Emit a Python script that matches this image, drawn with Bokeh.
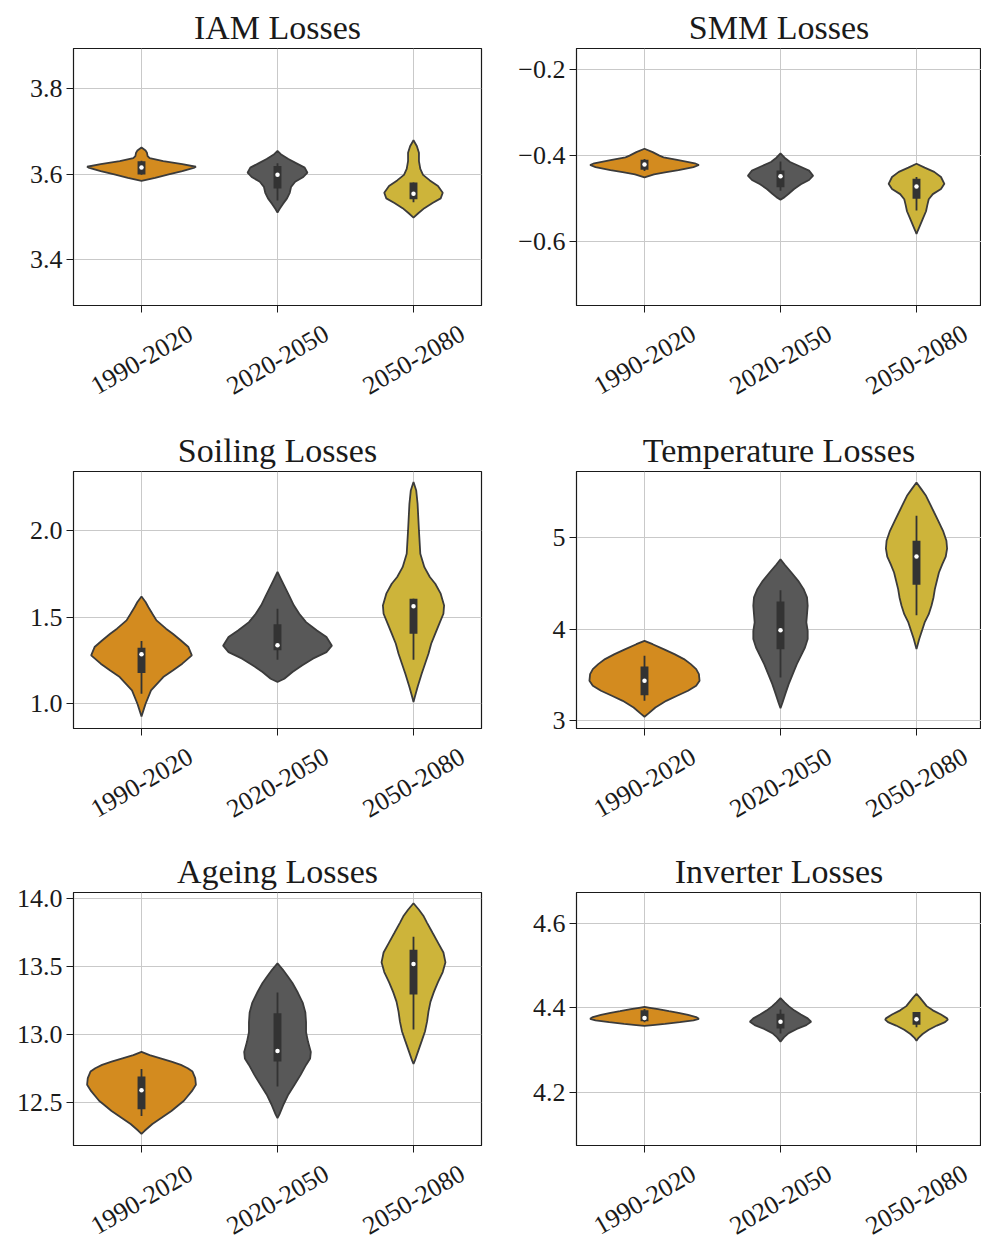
import numpy as np
from bokeh.plotting import figure
from bokeh.layouts import column, row
from bokeh.models import FixedTicker, Range1d
from bokeh.embed import file_html
from bokeh.resources import INLINE

periods = ["1990-2020", "2020-2050", "2050-2080"]
fill_colors = ["#D38B1F", "#585858", "#CDB43A"]

# ---------------- IAM Losses ----------------
iam_levels = [
    [3.662, 3.655, 3.650, 3.642, 3.637, 3.630, 3.623, 3.617, 3.615, 3.607, 3.599, 3.591, 3.584],
    [3.654, 3.645, 3.635, 3.625, 3.615, 3.603, 3.593, 3.582, 3.570, 3.556, 3.543, 3.530, 3.518, 3.510],
    [3.679, 3.665, 3.650, 3.630, 3.612, 3.598, 3.585, 3.572, 3.556, 3.543, 3.532, 3.520, 3.508, 3.498],
]
iam_widths = [
    [0, 0.03, 0.04, 0.045, 0.06, 0.16, 0.30, 0.40, 0.39, 0.30, 0.20, 0.10, 0],
    [0, 0.03, 0.08, 0.14, 0.20, 0.22, 0.19, 0.13, 0.10, 0.09, 0.07, 0.04, 0.015, 0],
    [0, 0.025, 0.04, 0.04, 0.05, 0.07, 0.12, 0.18, 0.215, 0.20, 0.14, 0.08, 0.035, 0],
]
iam_q1 = [3.599, 3.566, 3.541]
iam_med = [3.615, 3.598, 3.554]
iam_q3 = [3.630, 3.619, 3.580]
iam_wlo = [3.598, 3.538, 3.534]
iam_whi = [3.631, 3.625, 3.580]
iam_yticks = [3.4, 3.6, 3.8]
iam_ylabels = ["3.4", "3.6", "3.8"]
iam_ylim = (3.292, 3.894)

# ---------------- SMM Losses ----------------
smm_levels = [
    [-0.384, -0.392, -0.400, -0.404, -0.410, -0.418, -0.422, -0.427, -0.434, -0.439, -0.444, -0.451],
    [-0.395, -0.405, -0.415, -0.425, -0.435, -0.447, -0.457, -0.467, -0.478, -0.489, -0.497, -0.503],
    [-0.419, -0.428, -0.438, -0.450, -0.466, -0.478, -0.490, -0.502, -0.515, -0.530, -0.545, -0.560, -0.575, -0.583],
]
smm_widths = [
    [0, 0.06, 0.11, 0.14, 0.24, 0.37, 0.40, 0.36, 0.25, 0.15, 0.07, 0],
    [0, 0.03, 0.07, 0.14, 0.21, 0.24, 0.21, 0.15, 0.10, 0.06, 0.03, 0],
    [0, 0.06, 0.13, 0.18, 0.205, 0.18, 0.12, 0.09, 0.08, 0.07, 0.05, 0.03, 0.01, 0],
]
smm_q1 = [-0.433, -0.474, -0.501]
smm_med = [-0.421, -0.448, -0.472]
smm_q3 = [-0.410, -0.435, -0.454]
smm_wlo = [-0.436, -0.482, -0.528]
smm_whi = [-0.408, -0.414, -0.450]
smm_yticks = [-0.6, -0.4, -0.2]
smm_ylabels = ["\u22120.6", "\u22120.4", "\u22120.2"]
smm_ylim = (-0.750, -0.150)

# ---------------- Soiling Losses ----------------
soil_levels = [
    [1.619, 1.587, 1.558, 1.519, 1.481, 1.433, 1.404, 1.365, 1.327, 1.279, 1.231, 1.192, 1.154, 1.077, 1.000, 0.927],
    [1.760, 1.712, 1.664, 1.616, 1.568, 1.519, 1.471, 1.423, 1.385, 1.335, 1.298, 1.260, 1.221, 1.183, 1.144, 1.125],
    [2.279, 2.230, 2.154, 2.000, 1.865, 1.788, 1.731, 1.692, 1.635, 1.567, 1.519, 1.462, 1.404, 1.346, 1.288, 1.231, 1.173, 1.096, 1.040, 1.010],
]
soil_widths = [
    [0, 0.03, 0.05, 0.08, 0.11, 0.18, 0.23, 0.29, 0.345, 0.37, 0.30, 0.23, 0.16, 0.07, 0.03, 0],
    [0, 0.03, 0.06, 0.09, 0.12, 0.16, 0.21, 0.29, 0.36, 0.40, 0.36, 0.26, 0.18, 0.11, 0.05, 0],
    [0, 0.02, 0.03, 0.04, 0.05, 0.08, 0.12, 0.16, 0.20, 0.225, 0.22, 0.19, 0.16, 0.13, 0.11, 0.085, 0.06, 0.03, 0.01, 0],
]
soil_q1 = [1.177, 1.308, 1.404]
soil_med = [1.285, 1.337, 1.562]
soil_q3 = [1.323, 1.458, 1.606]
soil_wlo = [1.058, 1.254, 1.254]
soil_whi = [1.362, 1.548, 1.606]
soil_yticks = [1.0, 1.5, 2.0]
soil_ylabels = ["1.0", "1.5", "2.0"]
soil_ylim = (0.857, 2.340)

# ---------------- Temperature Losses ----------------
temp_levels = [
    [3.872, 3.835, 3.781, 3.726, 3.672, 3.617, 3.562, 3.507, 3.434, 3.380, 3.325, 3.270, 3.215, 3.142, 3.077, 3.040],
    [4.766, 4.708, 4.620, 4.529, 4.438, 4.347, 4.256, 4.164, 4.073, 3.982, 3.891, 3.799, 3.708, 3.617, 3.507, 3.398, 3.288, 3.197, 3.135],
    [5.606, 5.544, 5.460, 5.369, 5.277, 5.186, 5.077, 4.967, 4.883, 4.795, 4.712, 4.620, 4.529, 4.438, 4.347, 4.256, 4.164, 4.073, 3.982, 3.891, 3.781],
]
temp_widths = [
    [0, 0.06, 0.14, 0.22, 0.29, 0.34, 0.38, 0.40, 0.405, 0.38, 0.32, 0.24, 0.16, 0.08, 0.03, 0],
    [0, 0.03, 0.08, 0.13, 0.17, 0.195, 0.20, 0.195, 0.19, 0.20, 0.20, 0.18, 0.15, 0.12, 0.09, 0.06, 0.035, 0.015, 0],
    [0, 0.03, 0.07, 0.10, 0.13, 0.16, 0.195, 0.22, 0.225, 0.215, 0.19, 0.165, 0.15, 0.135, 0.125, 0.11, 0.09, 0.06, 0.04, 0.02, 0],
]
temp_q1 = [3.277, 3.781, 4.485]
temp_med = [3.434, 3.989, 4.796]
temp_q3 = [3.591, 4.303, 4.967]
temp_wlo = [3.215, 3.471, 4.153]
temp_whi = [3.708, 4.427, 5.241]
temp_yticks = [3, 4, 5]
temp_ylabels = ["3", "4", "5"]
temp_ylim = (2.912, 5.726)

# ---------------- Ageing Losses ----------------
age_levels = [
    [12.870, 12.846, 12.822, 12.798, 12.774, 12.750, 12.725, 12.677, 12.629, 12.581, 12.533, 12.509, 12.485, 12.436, 12.388, 12.340, 12.292, 12.267],
    [13.521, 13.473, 13.425, 13.376, 13.304, 13.232, 13.159, 13.087, 13.014, 12.942, 12.870, 12.822, 12.774, 12.701, 12.629, 12.557, 12.485, 12.412, 12.383],
    [13.962, 13.914, 13.866, 13.818, 13.745, 13.673, 13.600, 13.528, 13.456, 13.383, 13.311, 13.239, 13.166, 13.094, 13.022, 12.949, 12.877, 12.805, 12.781],
]
age_widths = [
    [0, 0.06, 0.14, 0.22, 0.29, 0.34, 0.375, 0.395, 0.40, 0.37, 0.33, 0.31, 0.28, 0.22, 0.15, 0.08, 0.025, 0],
    [0, 0.04, 0.075, 0.11, 0.15, 0.185, 0.205, 0.21, 0.21, 0.225, 0.245, 0.24, 0.21, 0.17, 0.125, 0.08, 0.045, 0.015, 0],
    [0, 0.04, 0.075, 0.10, 0.14, 0.18, 0.22, 0.235, 0.215, 0.18, 0.15, 0.125, 0.11, 0.10, 0.085, 0.06, 0.035, 0.01, 0],
]
age_q1 = [12.448, 12.800, 13.292]
age_med = [12.588, 12.877, 13.516]
age_q3 = [12.689, 13.154, 13.620]
age_wlo = [12.399, 12.616, 13.034]
age_whi = [12.744, 13.306, 13.716]
age_yticks = [12.5, 13.0, 13.5, 14.0]
age_ylabels = ["12.5", "13.0", "13.5", "14.0"]
age_ylim = (12.182, 14.041)

# ---------------- Inverter Losses ----------------
inv_levels = [
    [4.402, 4.400, 4.397, 4.392, 4.388, 4.383, 4.378, 4.374, 4.370, 4.366, 4.362, 4.359, 4.357],
    [4.423, 4.413, 4.404, 4.394, 4.384, 4.375, 4.367, 4.359, 4.350, 4.340, 4.330, 4.320],
    [4.433, 4.424, 4.414, 4.404, 4.394, 4.384, 4.375, 4.372, 4.366, 4.358, 4.348, 4.338, 4.329, 4.322],
]
inv_widths = [
    [0, 0.04, 0.10, 0.18, 0.25, 0.32, 0.38, 0.40, 0.36, 0.26, 0.15, 0.06, 0],
    [0, 0.03, 0.06, 0.10, 0.15, 0.20, 0.225, 0.19, 0.12, 0.06, 0.025, 0],
    [0, 0.025, 0.05, 0.075, 0.12, 0.18, 0.225, 0.23, 0.21, 0.15, 0.09, 0.045, 0.015, 0],
]
inv_q1 = [4.368, 4.351, 4.360]
inv_med = [4.376, 4.367, 4.373]
inv_q3 = [4.394, 4.386, 4.390]
inv_wlo = [4.366, 4.339, 4.354]
inv_whi = [4.397, 4.396, 4.390]
inv_yticks = [4.2, 4.4, 4.6]
inv_ylabels = ["4.2", "4.4", "4.6"]
inv_ylim = (4.074, 4.673)

# ---------------- styling / layout ----------------
FONT = "Liberation Serif"
PX_PER_UNIT = 136.0
LABEL_SHIFT = 0.36
EDGE = "#3b3b3b"
INK = "#1a1a1a"


def make_panel(title, levels, widths, q1, med, q3, wlo, whi,
               yticks, ylabels, ylim, col, height, bottom):
    frame_w = 408 if col == 0 else 405
    left = 73 if col == 0 else 65
    fig_w = 511 if col == 0 else 470
    x_end = -0.5 + frame_w / PX_PER_UNIT
    p = figure(width=fig_w, height=height,
               x_range=Range1d(-0.5, x_end), y_range=Range1d(*ylim),
               output_backend="svg", toolbar_location=None,
               min_border_left=left, min_border_right=fig_w - left - frame_w,
               min_border_top=48, min_border_bottom=bottom, title=title)
    p.title.text_font = FONT
    p.title.text_font_size = "34px"
    p.title.text_font_style = "normal"
    p.title.text_color = INK
    p.title.align = "center"
    p.title.standoff = 5

    p.background_fill_color = "white"
    p.border_fill_color = "white"
    p.outline_line_color = INK
    p.outline_line_width = 1.2
    p.outline_line_alpha = 1.0

    # grid
    p.grid.grid_line_color = "#c9c9c9"
    p.grid.grid_line_width = 1
    p.xgrid.ticker = FixedTicker(ticks=list(range(len(periods))))

    # x axis: tick marks at categories (minor), labels shifted so that the
    # rotated label is centred under its category
    xa = p.xaxis[0]
    xa.ticker = FixedTicker(ticks=[i + LABEL_SHIFT for i in range(len(periods))],
                            minor_ticks=list(range(len(periods))))
    xa.major_label_overrides = {i + LABEL_SHIFT: lab for i, lab in enumerate(periods)}
    xa.major_tick_line_color = None
    xa.major_tick_out = 7
    xa.major_tick_in = 0
    xa.minor_tick_line_color = INK
    xa.minor_tick_out = 7
    xa.minor_tick_in = 0
    xa.minor_tick_line_width = 1
    xa.major_label_orientation = np.pi / 6
    xa.major_label_standoff = 19
    xa.major_label_text_font = FONT
    xa.major_label_text_font_size = "26px"
    xa.major_label_text_color = INK
    xa.axis_line_color = INK

    ya = p.yaxis[0]
    ya.ticker = FixedTicker(ticks=yticks)
    ya.major_label_overrides = dict(zip(yticks, ylabels))
    ya.major_tick_out = 7
    ya.major_tick_in = 0
    ya.major_tick_line_color = INK
    ya.minor_tick_line_color = None
    ya.major_label_standoff = 4
    ya.major_label_text_font = FONT
    ya.major_label_text_font_size = "26px"
    ya.major_label_text_color = INK
    ya.axis_line_color = INK

    for i in range(len(periods)):
        lv = np.asarray(levels[i], dtype=float)
        hw = np.asarray(widths[i], dtype=float)
        xs = np.concatenate([i + hw, (i - hw)[::-1]])
        ys = np.concatenate([lv, lv[::-1]])
        p.patch(xs, ys, fill_color=fill_colors[i], line_color=EDGE, line_width=1.8)
        p.segment(x0=[i], y0=[wlo[i]], x1=[i], y1=[whi[i]], line_color="#333333", line_width=1.8)
        p.vbar(x=[i], width=0.058, bottom=[q1[i]], top=[q3[i]],
               fill_color="#333333", line_color=None)
        p.scatter(x=[i], y=[med[i]], size=4.5, fill_color="white", line_color=None)
    return p


p1 = make_panel("IAM Losses", iam_levels, iam_widths, iam_q1, iam_med, iam_q3, iam_wlo, iam_whi,
                iam_yticks, iam_ylabels, iam_ylim, 0, 423, 118)
p2 = make_panel("SMM Losses", smm_levels, smm_widths, smm_q1, smm_med, smm_q3, smm_wlo, smm_whi,
                smm_yticks, smm_ylabels, smm_ylim, 1, 423, 118)
p3 = make_panel("Soiling Losses", soil_levels, soil_widths, soil_q1, soil_med, soil_q3, soil_wlo, soil_whi,
                soil_yticks, soil_ylabels, soil_ylim, 0, 421, 116)
p4 = make_panel("Temperature Losses", temp_levels, temp_widths, temp_q1, temp_med, temp_q3, temp_wlo, temp_whi,
                temp_yticks, temp_ylabels, temp_ylim, 1, 421, 116)
p5 = make_panel("Ageing Losses", age_levels, age_widths, age_q1, age_med, age_q3, age_wlo, age_whi,
                age_yticks, age_ylabels, age_ylim, 0, 401, 96)
p6 = make_panel("Inverter Losses", inv_levels, inv_widths, inv_q1, inv_med, inv_q3, inv_wlo, inv_whi,
                inv_yticks, inv_ylabels, inv_ylim, 1, 401, 96)

layout = column(row(p1, p2), row(p3, p4), row(p5, p6))
open("out.html", "w").write(file_html(layout, INLINE))
